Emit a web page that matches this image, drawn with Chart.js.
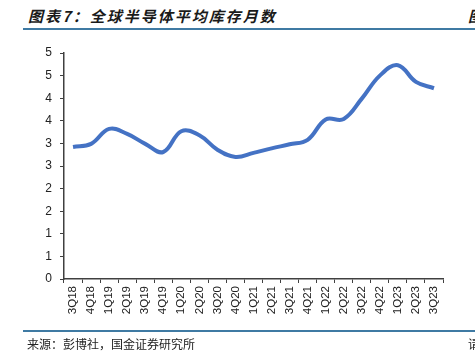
<!DOCTYPE html>
<html>
<head>
<meta charset="utf-8">
<script src="https://cdn.jsdelivr.net/npm/chart.js@4.4.1/dist/chart.umd.min.js"></script>
<style>
  html, body { margin: 0; padding: 0; background: #fff; }
  body { width: 475px; height: 354px; overflow: hidden; position: relative; }
  .title {
    position: absolute; left: 28px; top: 5px;
    font: italic bold 15px "Noto Sans CJK SC", sans-serif;
    color: #1a1a1a; letter-spacing: 2px; white-space: nowrap;
  }
  .rule { position: absolute; left: 23px; width: 460px; height: 2px; background: #3f7aa3; }
  .source {
    position: absolute; left: 27px; top: 335px;
    font: 12px "Noto Sans CJK SC", sans-serif; color: #222; white-space: nowrap;
  }
  .cut { position: absolute; font: italic bold 15px "Noto Sans CJK SC", sans-serif; color: #1a1a1a; }
  #wrap { position: absolute; left: 0; top: 0; width: 475px; height: 354px; }
</style>
</head>
<body>
<div class="title">图表7：全球半导体平均库存月数</div>
<div class="cut" style="left:468px; top:5px;">图</div>
<div class="rule" style="top:28px;"></div>
<div id="wrap"><canvas id="chart"></canvas></div>
<div class="rule" style="top:330px;"></div>
<div class="source">来源：彭博社，国金证券研究所</div>
<div class="cut" style="left:468px; top:335px; font:12px 'Noto Sans CJK SC';">请</div>

<script>
// quarters on the x axis
const quarters = ["3Q18", "4Q18", "1Q19", "2Q19", "3Q19", "4Q19", "1Q20", "2Q20", "3Q20", "4Q20",
  "1Q21", "2Q21", "3Q21", "4Q21", "1Q22", "2Q22", "3Q22", "4Q22", "1Q23", "2Q23", "3Q23"];

// average inventory, months
const inventoryMonths = [2.92, 2.99, 3.32, 3.21, 2.99, 2.81, 3.27, 3.18, 2.86, 2.70,
  2.79, 2.89, 2.98, 3.08, 3.53, 3.54, 3.99, 4.50, 4.73, 4.36, 4.22];

const yMin = 0;
const yMax = 5;
const yStep = 0.5;

const axisColor = "#404040";

new Chart(document.getElementById("chart"), {
  type: "line",
  data: {
    labels: quarters,
    datasets: [{
      data: inventoryMonths,
      borderColor: "#4472C4",
      borderWidth: 4,
      pointRadius: 0,
      tension: 0.4,
      fill: false,
    }],
  },
  options: {
    responsive: true,
    maintainAspectRatio: false,
    animation: false,
    layout: { padding: { left: 0, top: 53, right: 32, bottom: 30 } },
    plugins: { legend: { display: false }, tooltip: { enabled: false } },
    scales: {
      x: {
        offset: true,
        grid: { drawOnChartArea: false, offset: true, tickLength: 4, color: axisColor, lineWidth: 1 },
        border: { display: true, color: axisColor, width: 1.5 },
        ticks: {
          minRotation: 90, maxRotation: 90, autoSkip: false, padding: 3,
          color: "#222", font: { family: "'Liberation Sans', Arial", size: 11.5 },
        },
        afterFit: (scale) => { scale.height = 45; },
      },
      y: {
        min: yMin,
        max: yMax,
        grid: { drawOnChartArea: false, tickLength: 4, color: axisColor, lineWidth: 1 },
        border: { display: true, color: axisColor, width: 1.5 },
        ticks: {
          stepSize: yStep, padding: 8,
          color: "#222", font: { family: "'Liberation Sans', Arial", size: 12 },
          callback: (v) => Math.round(v),
        },
        afterFit: (scale) => { scale.width = 64; },
      },
    },
  },
});
</script>
</body>
</html>
